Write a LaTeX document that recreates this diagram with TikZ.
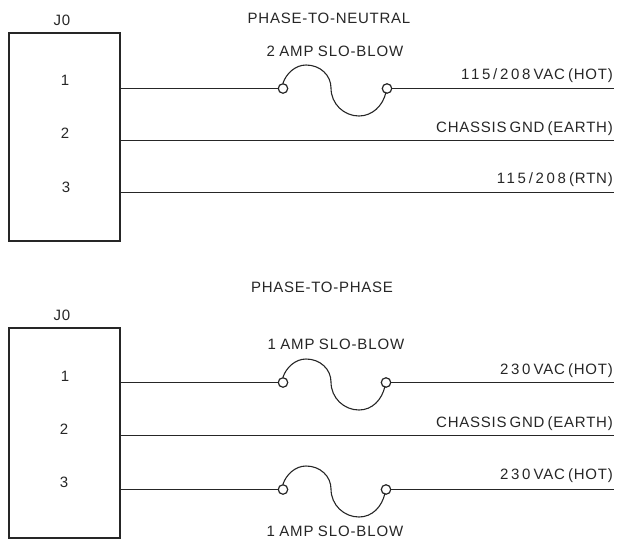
\documentclass[tikz,border=0pt]{standalone}
\usepackage{fontspec}
\setmainfont[LetterSpace=5,WordSpace=0.65]{Liberation Sans}
\newfontfamily\digitfont[LetterSpace=18,WordSpace=0.65]{Liberation Sans}
\newfontfamily\fusefont[LetterSpace=6,WordSpace=0.85]{Liberation Sans}
\newcommand{\dg}[1]{{\digitfont #1}}
\tikzset{
  x=1pt,y=-1pt,
  wire/.style={line width=1.5pt,black!85},
  boxj/.style={draw=black!85,line width=2.2pt,fill=white,minimum width=111pt,inner sep=0pt},
  term/.style={circle,draw=black!85,line width=1.2pt,fill=white,minimum size=9.5pt,inner sep=0pt},
  lab/.style={font=\fontsize{15}{17}\selectfont,text=black!85,inner sep=0pt},
  fuselab/.style={lab,font=\fontsize{15}{17}\selectfont\fusefont},
  fusearc/.style={line width=1.1pt,black!85}
}
\begin{document}
\begin{tikzpicture}
\useasboundingbox (0,0) rectangle (618,542);
% Top
\node[boxj,minimum height=208pt] (A) at (64.5,137) {};
\node[lab] (Aj) at (62,20) {J0};
\node[lab] (A1) at (65,80) {1};
\node[lab] (A2) at (65,133) {2};
\node[lab] (A3) at (66,187) {3};
\node[lab] (Atitle) at (329,18) {PHASE-TO-NEUTRAL};
\node[fuselab] (Afl) at (335,51) {2 AMP SLO-BLOW};
\node[term] (At1) at (283,88.5) {};
\node[term] (At2) at (387,88.5) {};
\coordinate (Ae1) at (614,88.5);
\coordinate (Ae2) at (614,140.5);
\coordinate (Ae3) at (614,192.5);
\coordinate (As1) at (120,88.5);
\coordinate (As2) at (120,140.5);
\coordinate (As3) at (120,192.5);
\draw[wire] (As1) -- (At1);
\draw[wire] (At2) -- (Ae1);
\draw[wire] (As2) -- (Ae2);
\draw[wire] (As3) -- (Ae3);
\draw[fusearc] (At1.north) .. controls (286,74) and (295,65) .. (306,65) .. controls (320,65) and (331,75) .. (331,88) .. controls (331,104) and (344,116) .. (359,116) .. controls (372,116) and (383,106) .. (386,92);
\node[lab,anchor=east] (Al1) at (613,75.5) {\dg{115/208} VAC (HOT)};
\node[lab,anchor=east] (Al2) at (613,128.5) {CHASSIS GND (EARTH)};
\node[lab,anchor=east] (Al3) at (613,179.5) {\dg{115/208} (RTN)};
% Bottom
\node[boxj,minimum height=210pt] (B) at (64.5,432.7) {};
\node[lab] (Bj) at (62,315) {J0};
\node[lab] (B1) at (65,376) {1};
\node[lab] (B2) at (64,429) {2};
\node[lab] (B3) at (64,482) {3};
\node[lab] (Btitle) at (322,287) {PHASE-TO-PHASE};
\node[fuselab] (Bfl) at (336,344) {1 AMP SLO-BLOW};
\node[fuselab] (Bfl2) at (335,531) {1 AMP SLO-BLOW};
\node[term] (Bt1) at (283,382.5) {};
\node[term] (Bt2) at (386,382.5) {};
\node[term] (Bt3) at (283,489.5) {};
\node[term] (Bt4) at (386,489.5) {};
\coordinate (Be1) at (614,382.5);
\coordinate (Be2) at (614,435.5);
\coordinate (Be3) at (614,489.5);
\coordinate (Bs1) at (120,382.5);
\coordinate (Bs2) at (120,435.5);
\coordinate (Bs3) at (120,489.5);
\draw[wire] (Bs1) -- (Bt1);
\draw[wire] (Bt2) -- (Be1);
\draw[wire] (Bs2) -- (Be2);
\draw[wire] (Bs3) -- (Bt3);
\draw[wire] (Bt4) -- (Be3);
\draw[fusearc] (Bt1.north) .. controls (286,368) and (295,359) .. (306,359) .. controls (320,359) and (331,369) .. (331,382) .. controls (331,398) and (344,410) .. (359,410) .. controls (372,410) and (382,400) .. (385,386);
\draw[fusearc] (Bt3.north) .. controls (286,475) and (295,466) .. (306,466) .. controls (320,466) and (331,476) .. (331,489) .. controls (331,505) and (344,517) .. (359,517) .. controls (372,517) and (382,507) .. (385,493);
\node[lab,anchor=east] (Bl1) at (613,370.5) {\dg{230} VAC (HOT)};
\node[lab,anchor=east] (Bl2) at (613,423.5) {CHASSIS GND (EARTH)};
\node[lab,anchor=east] (Bl3) at (613,475.5) {\dg{230} VAC (HOT)};
\end{tikzpicture}
\end{document}
